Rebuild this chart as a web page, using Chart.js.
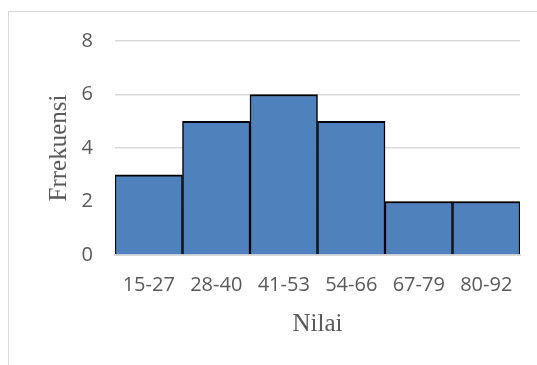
<!DOCTYPE html>
<html>
<head>
<meta charset="utf-8">
<script src="https://cdn.jsdelivr.net/npm/chart.js@4/dist/chart.umd.min.js"></script>
<style>
  html, body { margin: 0; padding: 0; width: 537px; height: 365px; overflow: hidden; background: #fff; }
  #frame { position: absolute; left: 8px; top: 11px; width: 700px; height: 500px; border: 1px solid #d9d9d9; box-sizing: border-box; }
  #c { position: absolute; left: 0; top: 0; }
</style>
</head>
<body>
<div id="frame"></div>
<canvas id="c" width="537" height="365"></canvas>
<script>
// Score intervals and how many students fall in each
const categories = ['15-27', '28-40', '41-53', '54-66', '67-79', '80-92'];
const frequencies = [3, 5, 6, 5, 2, 2];
const yTicks = [0, 2, 4, 6, 8];

const tickFont = { family: "'Open Sans', 'Liberation Sans', sans-serif", size: 20 };
const titleFont = { family: "'Liberation Serif', 'Times New Roman', serif", size: 25 };
const textColor = '#595959';
const gridColor = '#d9d9d9';

new Chart(document.getElementById('c'), {
  type: 'bar',
  data: {
    labels: categories,
    datasets: [{
      label: 'Frrekuensi',
      data: frequencies,
      backgroundColor: '#4f81bd',
      borderColor: '#000000',
      borderWidth: { top: 2, left: 1.5, right: 1.5, bottom: 0 },
      borderSkipped: false,
      barPercentage: 1,
      categoryPercentage: 1
    }]
  },
  options: {
    responsive: false,
    animation: false,
    layout: { padding: { top: 41, right: 17, bottom: 0, left: 0 } },
    plugins: { legend: { display: false }, tooltip: { enabled: false } },
    scales: {
      x: {
        grid: { display: false, drawTicks: false },
        border: { display: true, color: gridColor, width: 2 },
        ticks: { font: tickFont, color: textColor, padding: 18, maxRotation: 0 },
        title: { display: true, text: 'Nilai', font: titleFont, color: textColor, padding: { top: 0, bottom: 26 } },
        afterFit: (s) => { s.height = 110; }
      },
      y: {
        min: yTicks[0],
        max: yTicks[yTicks.length - 1],
        afterBuildTicks: (s) => { s.ticks = yTicks.map(v => ({ value: v })); },
        grid: { color: gridColor, lineWidth: 1.5, drawTicks: false },
        border: { display: false },
        ticks: { font: tickFont, color: textColor, padding: 22 },
        title: { display: true, text: 'Frrekuensi', font: titleFont, color: textColor, padding: { top: 44, bottom: 0 } },
        afterFit: (s) => { s.width = 115; }
      }
    }
  }
});
</script>
</body>
</html>
